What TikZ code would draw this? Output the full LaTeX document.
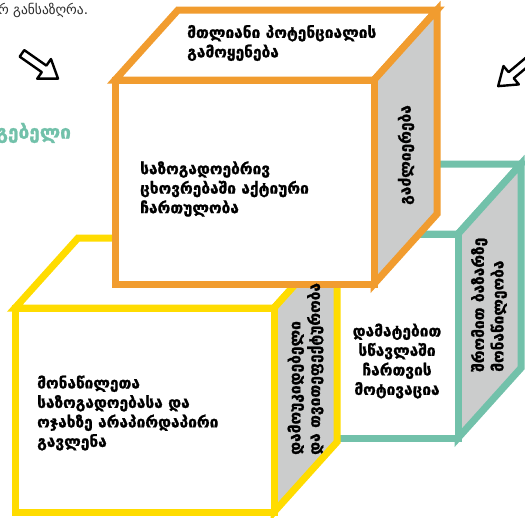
\documentclass[tikz,border=0pt]{standalone}
\usepackage{fontspec}
\setmainfont{DejaVu Sans}
\newfontfamily\geobold{DejaVu Sans Bold}[FakeBold=1.2]
\definecolor{corange}{HTML}{F19C2F}
\definecolor{cyellow}{HTML}{FFDC00}
\definecolor{cteal}{HTML}{72C1AA}
\definecolor{sidegrey}{HTML}{CBCCCC}
\definecolor{darktext}{HTML}{2B2B2B}
\newcommand{\drawcube}[3]{%
  \begin{scope}[shift={(#1,#2)}]
    \filldraw[cubeline,draw=#3,fill=white] (0,0) -- (63,-70) -- (322,-70) -- (259,0) -- cycle;
    \filldraw[cubeline,draw=#3,fill=sidegrey] (259,0) -- (322,-70) -- (322,134) -- (259,204) -- cycle;
    \filldraw[cubeline,draw=#3,fill=white] (0,0) rectangle (259,204);
  \end{scope}}
\tikzset{
  cubeline/.style={line width=7pt,line join=miter},
  facetext/.style={font=\fontsize{15.5}{19.5}\geobold,text=black,inner sep=0pt,align=left},
  handarrow/.style={draw=black,line width=2.4pt,fill=white,line join=round}
}
\begin{document}
\begin{tikzpicture}[x=1pt,y=-1pt]
\useasboundingbox (0,0) rectangle (525,517);
\fill[white] (0,0) rectangle (525,517);
% clipped surrounding texts
\node[anchor=west,inner sep=0pt,text=darktext,font=\fontsize{13.5}{16}\selectfont] (toptext) at (-2,10) {რ განსაზღრა.};
\node[anchor=west,inner sep=0pt,text=cteal,font=\fontsize{19}{21}\geobold] (tealtext) at (-4,133) {გებელი};
% hand drawn arrows
\begin{scope}[shift={(40,66)},rotate=-35]
  \draw[handarrow] (-22,-4) -- (5,-4) -- (5,-12) -- (22,0) -- (5,12) -- (5,4) -- (-22,4) -- cycle;
\end{scope}
\begin{scope}[shift={(515,72)},rotate=-140]
  \draw[handarrow] (-22,-4) -- (5,-4) -- (5,-12) -- (22,0) -- (5,12) -- (5,4) -- (-22,4) -- cycle;
\end{scope}
% cubes
\drawcube{199}{234}{cteal}
\drawcube{15}{308}{cyellow}
\drawcube{115}{80}{corange}
% texts
\node[facetext,anchor=west] (otop) at (187,43) {მთლიანი პოტენციალის\\გამოყენება};
\node[facetext,anchor=west] (ofront) at (140,189) {საზოგადოებრივ\\ცხოვრებაში აქტიური\\ჩართულობა};
\node[facetext,rotate=90] (oside) at (406,155) {გაძლიერება};
\node[facetext,align=center] (tfront) at (397,361) {დამატებით\\სწავლაში\\ჩართვის\\მოტივაცია};
\node[facetext,rotate=90,anchor=west] (tside) at (489,372) {შრომით ბაზარზე\\მონაწილეობა};
\node[facetext,anchor=west] (yfront) at (37,413) {მონაწილეთა\\საზოგადოებასა და\\ოჯახზე არაპირდაპირი\\გავლენა};
\node[facetext,rotate=90,anchor=west] (yside) at (305.5,455) {დამოუკიდებელი\\და თვითეფექტურობა};
\end{tikzpicture}
\end{document}
